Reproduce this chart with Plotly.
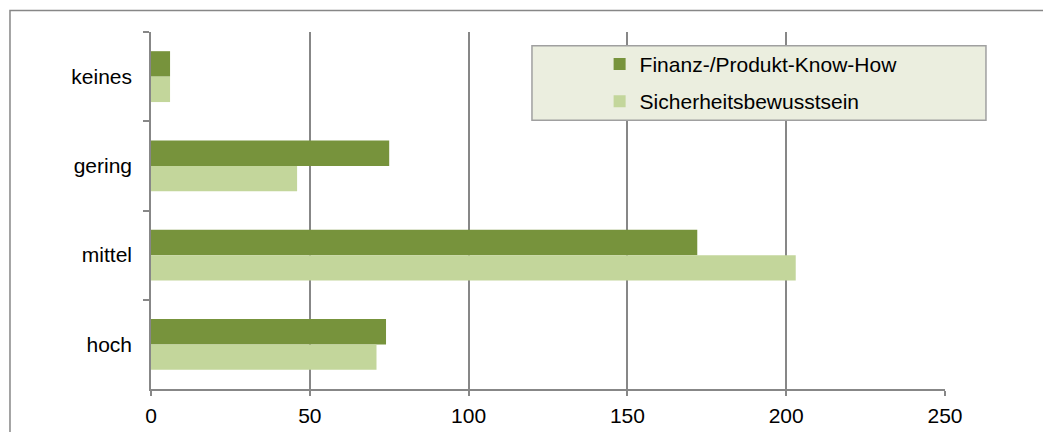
import plotly.graph_objects as go

categories = ["keines", "gering", "mittel", "hoch"]
finanz_know_how = [6, 75, 172, 74]
sicherheitsbewusstsein = [6, 46, 203, 71]
series_names = ["Finanz-/Produkt-Know-How", "Sicherheitsbewusstsein"]
x_ticks = [0, 50, 100, 150, 200, 250]

DARK = "#77933C"
LIGHT = "#C3D69B"
GRID = "#878787"
FONT = "Liberation Sans, Arial, sans-serif"

fig = go.Figure()
fig.add_trace(go.Bar(y=categories, x=finanz_know_how, orientation="h",
                     name=series_names[0], marker=dict(color=DARK, line=dict(width=0)),
                     legendgroup="a"))
fig.add_trace(go.Bar(y=categories, x=sicherheitsbewusstsein, orientation="h",
                     name=series_names[1], marker=dict(color=LIGHT, line=dict(width=0)),
                     legendgroup="b"))

fig.update_layout(
    width=1043, height=432,
    margin=dict(l=151, r=98, t=32, b=43, autoexpand=False),
    paper_bgcolor="white", plot_bgcolor="white",
    barmode="group", bargap=0.43, bargroupgap=0,
    font=dict(family=FONT, size=21, color="#000000"),
    showlegend=True,
    legend=dict(x=0.565, y=0.967, xanchor="left", yanchor="top",
                bgcolor="rgba(0,0,0,0)", borderwidth=0,
                tracegroupgap=7, traceorder="grouped",
                font=dict(family=FONT, size=21, color="#000000")),
    xaxis=dict(range=[0, 250], tickvals=x_ticks, ticktext=[str(v) for v in x_ticks],
               showgrid=True, gridcolor=GRID, gridwidth=1.5,
               showline=True, linecolor=GRID, linewidth=1.5,
               ticks="outside", ticklen=5, tickcolor=GRID, tickwidth=1.5,
               ticklabelstandoff=2, zeroline=False, fixedrange=True),
    yaxis=dict(categoryorder="array", categoryarray=categories, autorange="reversed",
               showgrid=False, showline=True, linecolor=GRID, linewidth=1.5,
               ticks="outside", ticklen=6, tickcolor=GRID, tickwidth=1.5,
               tickson="boundaries", ticklabelstandoff=13, zeroline=False),
    shapes=[
        dict(type="rect", xref="paper", yref="paper",
             x0=-0.1776, x1=1.132, y0=-0.143, y1=1.0605,
             line=dict(color=GRID, width=1.5), fillcolor="rgba(0,0,0,0)", layer="below"),
        dict(type="rect", xref="paper", yref="paper",
             x0=0.4798, x1=1.0516, y0=0.7529, y1=0.9617,
             line=dict(color="#A0A0A0", width=1.5), fillcolor="#EBEEDF", layer="above"),
    ],
)

fig.write_html("out.html")
